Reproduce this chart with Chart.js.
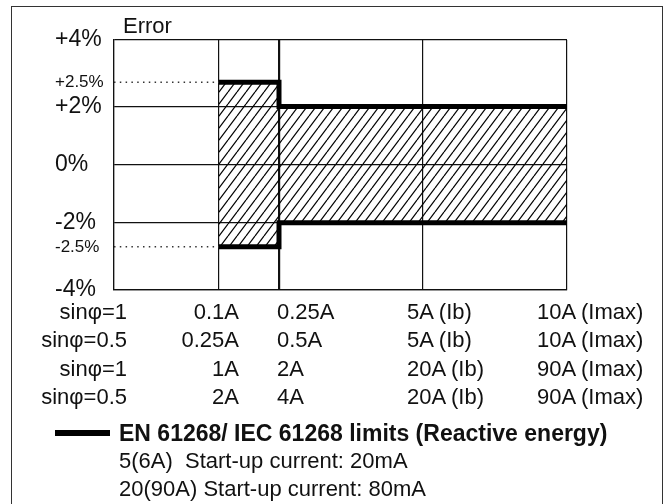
<!DOCTYPE html>
<html>
<head>
<meta charset="utf-8">
<script src="https://cdn.jsdelivr.net/npm/chart.js@4"></script>
<style>
  html, body { margin: 0; padding: 0; background: #fff; }
  body { width: 669px; height: 504px; overflow: hidden; position: relative;
         font-family: "Liberation Sans", Arial, Helvetica, sans-serif; color: #111; }
  #frame { position: absolute; left: 11px; top: 6px; width: 650px; height: 530px; border: 1.5px solid #333; }
  #wrap  { position: absolute; left: 12px; top: 8px; width: 650px; height: 295px; }
  .t { position: absolute; white-space: nowrap; font-size: 22px; height: 28px; line-height: 28px; }
  .r { text-align: right; width: 200px; }
  #legendLine { position: absolute; left: 55px; top: 430px; width: 55px; height: 6px; background: #000; }
</style>
</head>
<body>
<div id="frame"></div>
<div id="wrap"><canvas id="chart"></canvas></div>
<div class="t" style="left:123px; top:12px;">Error</div>
<div id="table"></div>
<div id="legendLine"></div>
<div class="t" style="left:119px; top:419px; font-weight:bold; font-size:23px;">EN 61268/ IEC 61268 limits (Reactive energy)</div>
<div class="t" style="left:119px; top:447px;">5(6A)&nbsp; Start-up current: 20mA</div>
<div class="t" style="left:119px; top:475px;">20(90A) Start-up current: 80mA</div>

<script>
// Reactive energy error limits (schematic drawing, axes not to scale)

// x: schematic column stops -> plot left edge, first current, second current, Ib, Imax
const axisStops = [0, 3.5, 5.5, 10.3, 15.1];

// limit segments: from stop index, to stop index, +/- error in %
const limitFrom = [1, 2];
const limitTo   = [2, 4];
const limitPct  = [2.5, 2];

const yTicks = [-4, -2.5, -2, 0, 2, 2.5, 4];
const minorTicks = [-2.5, 2.5];

// current table under the chart
const rowLabels = ['sinφ=1', 'sinφ=0.5', 'sinφ=1', 'sinφ=0.5'];
const colStart  = ['0.1A', '0.25A', '1A', '2A'];
const colStep   = ['0.25A', '0.5A', '2A', '4A'];
const colIb     = ['5A (Ib)', '5A (Ib)', '20A (Ib)', '20A (Ib)'];
const colImax   = ['10A (Imax)', '10A (Imax)', '90A (Imax)', '90A (Imax)'];

const FONT = '"Liberation Sans", Arial, Helvetica, sans-serif';

// --- table of currents (html text) ---
const table = document.getElementById('table');
const cols = [
  { vals: rowLabels, x: 127, right: true },
  { vals: colStart,  x: 239, right: true },
  { vals: colStep,   x: 277 },
  { vals: colIb,     x: 407 },
  { vals: colImax,   x: 537 }
];
cols.forEach(c => {
  c.vals.forEach((txt, i) => {
    const el = document.createElement('div');
    el.className = 't' + (c.right ? ' r' : '');
    el.style.top = (298 + i * 28.3) + 'px';
    el.style.left = (c.right ? c.x - 200 : c.x) + 'px';
    el.textContent = txt;
    table.appendChild(el);
  });
});

// --- piecewise y scale: the drawing stretches the band near +/-2.5% ---
class SchematicScale extends Chart.LinearScale {
  _decimal(v) {
    const br = this.options.breaks;        // [{v, at}] for v >= 0, mirrored below zero
    const a = Math.abs(v), s = v < 0 ? -1 : 1;
    let d = br[br.length - 1].at;
    for (let i = 1; i < br.length; i++) {
      if (a <= br[i].v) {
        const p = br[i - 1], q = br[i];
        d = p.at + (a - p.v) / (q.v - p.v) * (q.at - p.at);
        break;
      }
    }
    return 0.5 + s * d / 2;
  }
  getPixelForValue(value) {
    return value === null ? NaN : this.getPixelForDecimal(this._decimal(value));
  }
}
SchematicScale.id = 'schematic';
SchematicScale.defaults = Chart.LinearScale.defaults;
Chart.register(SchematicScale);

// --- hatch pattern ---
function hatch() {
  const w = 9, h = 12;
  const c = document.createElement('canvas');
  c.width = w; c.height = h;
  const g = c.getContext('2d');
  g.strokeStyle = '#000';
  g.lineWidth = 1.25;
  [-w, 0, w].forEach(o => { g.beginPath(); g.moveTo(o, h); g.lineTo(o + w, 0); g.stroke(); });
  return g.createPattern(c, 'repeat');
}
const pattern = hatch();

function limitLine(sign) {
  const pts = [];
  limitFrom.forEach((f, i) => {
    pts.push({ x: axisStops[f], y: sign * limitPct[i] });
    pts.push({ x: axisStops[limitTo[i]], y: sign * limitPct[i] });
  });
  return pts;
}

function refLine(sign) {
  return [{ x: axisStops[0], y: sign * limitPct[0] }, { x: axisStops[limitFrom[0]], y: sign * limitPct[0] }];
}

const limitStyle = {
  borderColor: '#000', borderWidth: 5, pointRadius: 0, fill: 'origin',
  backgroundColor: pattern, borderJoinStyle: 'miter', borderCapStyle: 'butt', tension: 0
};
const dotStyle = {
  borderColor: '#333', borderWidth: 1.5, borderDash: [1.5, 4.3], pointRadius: 0, fill: false
};

new Chart(document.getElementById('chart'), {
  type: 'line',
  data: {
    datasets: [
      { label: 'upper', data: limitLine(1), ...limitStyle },
      { label: 'lower', data: limitLine(-1), ...limitStyle },
      { label: 'ref+', data: refLine(1), ...dotStyle },
      { label: 'ref-', data: refLine(-1), ...dotStyle }
    ]
  },
  options: {
    responsive: true,
    maintainAspectRatio: false,
    animation: false,
    layout: { padding: { left: 43, top: 32, right: 95, bottom: 8 } },
    plugins: { legend: { display: false }, tooltip: { enabled: false }, title: { display: false } },
    scales: {
      x: {
        type: 'linear', min: axisStops[0], max: axisStops[axisStops.length - 1],
        afterBuildTicks: s => { s.ticks = axisStops.map(v => ({ value: v })); },
        afterFit: s => { s.height = 0; },
        ticks: { display: false },
        grid: { color: '#111', drawTicks: false,
                lineWidth: ctx => ctx.tick && ctx.tick.value === axisStops[2] ? 2.2 : 1.2 },
        border: { display: true, color: '#111', width: 1.2 }
      },
      y: {
        type: 'schematic', min: -4, max: 4,
        breaks: [{ v: 0, at: 0 }, { v: 2, at: 0.466 }, { v: 2.5, at: 0.66 }, { v: 4, at: 1 }],
        afterBuildTicks: s => { s.ticks = yTicks.map(v => ({ value: v })); },
        afterFit: s => { s.width = 59; },
        ticks: {
          crossAlign: 'far', padding: 0, color: '#111',
          font: ctx => ({ family: FONT, size: minorTicks.includes(ctx.tick && ctx.tick.value) ? 17 : 23 }),
          callback: v => (v > 0 ? '+' : '') + v + '%'
        },
        grid: { drawTicks: false, lineWidth: 1.2,
                color: ctx => ctx.tick && minorTicks.includes(ctx.tick.value) ? 'transparent' : '#111' },
        border: { display: true, color: '#111', width: 1.2 }
      }
    }
  }
});
</script>
</body>
</html>
